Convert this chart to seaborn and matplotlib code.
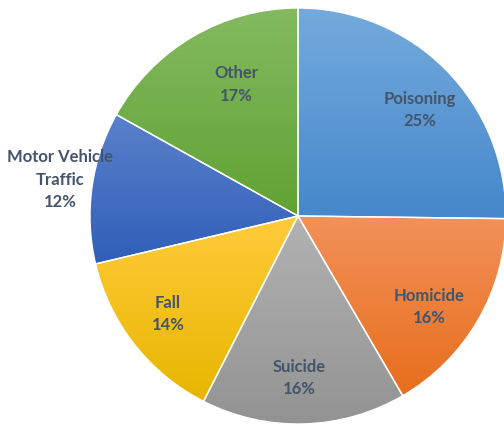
import numpy as np
import matplotlib
matplotlib.use('Agg')
from matplotlib import pyplot as plt
import seaborn as sns

sns.set_theme(style='white')
plt.rcParams['font.family'] = ['Lato', 'DejaVu Sans']

# shares of injury deaths, clockwise from 12 o'clock
causes = ['Poisoning', 'Homicide', 'Suicide', 'Fall', 'Motor Vehicle\nTraffic', 'Other']
shares = [25.2, 16.4, 15.9, 13.8, 11.8, 16.9]
pct_labels = ['25%', '16%', '16%', '14%', '12%', '17%']
base_colors = ['#5B9BD5', '#ED7D31', '#A5A5A5', '#FFC000', '#4472C4', '#70AD47']
# gradient ends (top, bottom) of each slice
top_colors = ['#74AADD', '#F3915A', '#B2B2B2', '#FFCB3C', '#5A80CC', '#84BA60']
bot_colors = ['#4588CB', '#E76E1C', '#939393', '#E8B600', '#305FB8', '#60A234']
# label placement: radius and angle shift from the wedge middle
label_r = [0.777, 0.767, 0.779, 0.783, 1.157, 0.70]
label_dang = [-3.6, -4.6, -1.2, -1.2, -0.7, -5.2]

fig = plt.figure(figsize=(5.04, 4.24), dpi=100)
ax = fig.add_axes([0, 0, 1, 1])

wedges, _ = ax.pie(shares, startangle=90, counterclock=False, radius=1,
                   colors=base_colors,
                   wedgeprops={'edgecolor': 'white', 'linewidth': 1.0})

for w, c1, c2 in zip(wedges, top_colors, bot_colors):
    bb = w.get_path().get_extents()
    top = np.array(sns.desaturate(c1, 1.0))
    bot = np.array(sns.desaturate(c2, 1.0))
    t = np.linspace(0, 1, 64)[:, None]
    grad = (top[None, :] * (1 - t) + bot[None, :] * t)[:, None, :]
    im = ax.imshow(grad, extent=(bb.x0, bb.x1, bb.y0, bb.y1), origin='upper',
                   aspect='auto', interpolation='bilinear', zorder=1.5)
    im.set_clip_path(w)
    w.set_zorder(2)
    w.set_facecolor('none')

for w, name, pct, r, da in zip(wedges, causes, pct_labels, label_r, label_dang):
    ang = np.deg2rad((w.theta1 + w.theta2) / 2 + da)
    ax.text(r * np.cos(ang), r * np.sin(ang), name + '\n' + pct,
            ha='center', va='center', fontsize=12, fontweight='bold',
            color='#44546A', linespacing=1.5, zorder=3)

ax.set_xlim(-298 / 208, 206 / 208)
ax.set_ylim(-208 / 208, 216 / 208)
ax.set_aspect('auto')
ax.axis('off')

plt.savefig('out.png', dpi=100)
